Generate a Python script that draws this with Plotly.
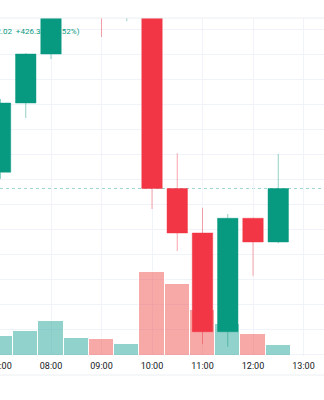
import plotly.graph_objects as go
from datetime import datetime, timedelta

# ---- data ----
times = ["2025-03-14 07:00", "2025-03-14 07:30", "2025-03-14 08:00", "2025-03-14 08:30",
         "2025-03-14 09:00", "2025-03-14 09:30", "2025-03-14 10:00", "2025-03-14 10:30",
         "2025-03-14 11:00", "2025-03-14 11:30", "2025-03-14 12:00", "2025-03-14 12:30"]
opens = [82427, 82704, 82900, 83150, 83420, 83250, 83400, 82362, 82184, 81789, 82243, 82148]
highs = [82720, 82904, 83200, 83480, 83500, 83450, 83420, 82503, 82285, 82260, 82246, 82500]
lows = [82400, 82644, 82880, 83080, 82968, 83032, 82280, 82112, 81739, 81729, 82013, 82143]
closes = [82704, 82900, 83150, 83420, 83250, 83400, 82362, 82184, 81789, 82243, 82148, 82362.02]
volumes = [200, 253, 350, 180, 170, 120, 840, 720, 460, 320, 220, 110]
last_close = 82362.02
change = 426.38
change_pct = 0.52

UP = "#089981"
DOWN = "#f23645"
UP_VOL = "rgba(38,166,154,0.5)"
DOWN_VOL = "rgba(239,83,80,0.5)"
GRID = "#f0f3fa"

t0 = datetime.strptime(times[0], "%Y-%m-%d %H:%M")
px_per_hour = 50.5
def px_to_time(px):
    return t0 + timedelta(hours=px / px_per_hour)

vol_colors = [UP_VOL if c >= o else DOWN_VOL for o, c in zip(opens, closes)]

fig = go.Figure()

fig.add_trace(go.Bar(
    x=times, y=volumes, width=1800000,
    marker=dict(color=vol_colors, line=dict(color="white", width=1)),
    yaxis="y", hoverinfo="skip", showlegend=False))

# legend text (partially hidden behind a candle)
fig.add_trace(go.Scatter(
    x=[px_to_time(44.5), px_to_time(79)], y=[82990, 82990],
    mode="text",
    text=[f"C{last_close:,.2f}  +{change:.2f}", f"(+{change_pct:.2f}%)"],
    textposition=["middle left", "middle left"],
    textfont=dict(color=UP, size=8, family="Roboto"),
    yaxis="y2", hoverinfo="skip", showlegend=False))

fig.add_trace(go.Candlestick(
    x=times, open=opens, high=highs, low=lows, close=closes,
    increasing=dict(line=dict(color="rgba(8,153,129,0.45)", width=1), fillcolor=UP),
    decreasing=dict(line=dict(color="rgba(242,54,69,0.45)", width=1), fillcolor=DOWN),
    whiskerwidth=0, yaxis="y2", showlegend=False))

fig.update_layout(
    width=324, height=400,
    margin=dict(l=0, r=0, t=18, b=44),
    paper_bgcolor="white", plot_bgcolor="white",
    bargap=0, boxgap=0.19, boxgroupgap=0,
    xaxis=dict(
        type="date",
        range=[px_to_time(-0.5), px_to_time(323.5)],
        rangeslider=dict(visible=False),
        showgrid=True, gridcolor=GRID, gridwidth=1,
        dtick=3600000, tick0=times[0], tickformat="%H:%M",
        ticks="", showline=False, zeroline=False,
        ticklabeloverflow="allow", automargin=False,
        ticklabelstandoff=3,
        tickfont=dict(size=9, color="#131722", family="Roboto"),
    ),
    yaxis=dict(range=[0, 3380], showgrid=False, showticklabels=False, zeroline=False,
               fixedrange=True, automargin=False),
    yaxis2=dict(range=[81692, 83044], overlaying="y", side="right",
                showgrid=True, gridcolor=GRID, gridwidth=1, dtick=100, tick0=0,
                showticklabels=False, zeroline=False, automargin=False),
    shapes=[
        dict(type="line", xref="paper", yref="y2", x0=0, x1=1, y0=last_close, y1=last_close,
             line=dict(color="rgba(8,153,129,0.4)", width=1, dash="dot"), layer="below"),
        dict(type="line", xref="paper", yref="paper", x0=0, x1=1, y0=1, y1=1,
             line=dict(color="#eceef2", width=1)),
        dict(type="line", xref="paper", yref="paper", x0=0, x1=1, y0=-19/338, y1=-19/338,
             line=dict(color="#eceef2", width=1)),
    ],
)

fig.write_html("out.html")
